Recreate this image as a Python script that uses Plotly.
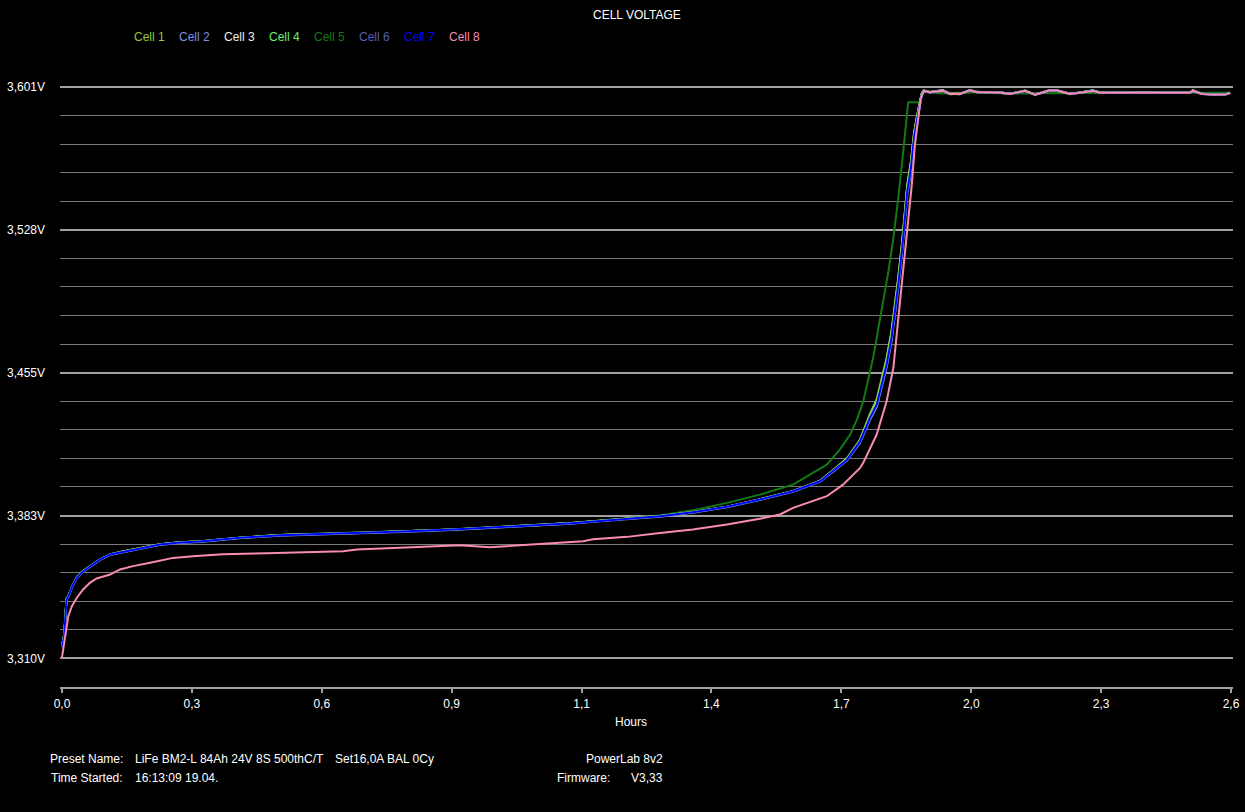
import plotly.graph_objects as go

# ---------------- data ----------------
cell_names = ["Cell 1", "Cell 2", "Cell 3", "Cell 4", "Cell 5", "Cell 6", "Cell 7", "Cell 8"]
cell_colors = ["#96C832", "#7B8FE8", "#F0EEE4", "#6CF06C", "#137A13", "#5560B0", "#0000FF", "#F88CB0"]

hours_main = [0.000, 0.005, 0.010, 0.014, 0.022, 0.033, 0.047, 0.062, 0.085, 0.107,
              0.136, 0.174, 0.218, 0.262, 0.307, 0.396, 0.485, 0.641, 0.758, 0.870,
              0.956, 1.052, 1.134, 1.190, 1.257, 1.330, 1.403, 1.479, 1.552, 1.626,
              1.686, 1.715, 1.746, 1.775, 1.797, 1.812, 1.823, 1.834, 1.845, 1.853,
              1.860, 1.868, 1.875, 1.880, 1.888, 1.895, 1.901, 1.907, 1.912, 1.917,
              1.930, 1.959, 1.975, 1.997, 2.019, 2.035, 2.086, 2.108, 2.142, 2.164,
              2.197, 2.213, 2.242, 2.264, 2.293, 2.309, 2.400, 2.509, 2.515, 2.535,
              2.564, 2.587, 2.598]

cell_1 = [3.3165, 3.3225, 3.3405, 3.3418, 3.3463, 3.3514, 3.3545, 3.3569, 3.3605, 3.3630,
          3.3646, 3.3662, 3.3680, 3.3692, 3.3697, 3.3714, 3.3729, 3.3737, 3.3748, 3.3756,
          3.3768, 3.3777, 3.3790, 3.3799, 3.3813, 3.3824, 3.3846, 3.3872, 3.3911, 3.3953,
          3.4005, 3.4058, 3.4120, 3.4215, 3.4345, 3.4420, 3.4525, 3.4630, 3.4770, 3.4905,
          3.5040, 3.5210, 3.5375, 3.5505, 3.5625, 3.5770, 3.5850, 3.5928, 3.5975, 3.5990,
          3.5984, 3.5990, 3.5978, 3.5976, 3.5992, 3.5984, 3.5982, 3.5976, 3.5990, 3.5971,
          3.5992, 3.5991, 3.5973, 3.5981, 3.5990, 3.5982, 3.5981, 3.5982, 3.5989, 3.5975,
          3.5971, 3.5972, 3.5982]

cell_2 = [3.3158, 3.3218, 3.3398, 3.3414, 3.3460, 3.3511, 3.3542, 3.3567, 3.3603, 3.3628,
          3.3643, 3.3659, 3.3679, 3.3689, 3.3694, 3.3713, 3.3726, 3.3736, 3.3745, 3.3755,
          3.3765, 3.3776, 3.3787, 3.3798, 3.3810, 3.3823, 3.3843, 3.3871, 3.3908, 3.3950,
          3.4000, 3.4050, 3.4108, 3.4198, 3.4315, 3.4380, 3.4480, 3.4580, 3.4715, 3.4850,
          3.4985, 3.5155, 3.5325, 3.5460, 3.5580, 3.5735, 3.5822, 3.5910, 3.5965, 3.5990,
          3.5982, 3.5990, 3.5975, 3.5975, 3.5992, 3.5983, 3.5983, 3.5975, 3.5990, 3.5971,
          3.5992, 3.5991, 3.5975, 3.5980, 3.5990, 3.5980, 3.5982, 3.5980, 3.5989, 3.5975,
          3.5971, 3.5972, 3.5979]

cell_3 = [3.3162, 3.3222, 3.3402, 3.3416, 3.3462, 3.3513, 3.3544, 3.3568, 3.3604, 3.3629,
          3.3645, 3.3661, 3.3681, 3.3691, 3.3696, 3.3715, 3.3728, 3.3738, 3.3747, 3.3757,
          3.3767, 3.3778, 3.3789, 3.3800, 3.3812, 3.3825, 3.3845, 3.3873, 3.3910, 3.3952,
          3.4004, 3.4056, 3.4116, 3.4210, 3.4338, 3.4410, 3.4515, 3.4620, 3.4760, 3.4895,
          3.5035, 3.5205, 3.5375, 3.5510, 3.5630, 3.5775, 3.5855, 3.5932, 3.5976, 3.5992,
          3.5984, 3.5994, 3.5976, 3.5973, 3.5994, 3.5985, 3.5981, 3.5974, 3.5990, 3.5972,
          3.5993, 3.5993, 3.5975, 3.5982, 3.5992, 3.5982, 3.5980, 3.5982, 3.5994, 3.5976,
          3.5971, 3.5972, 3.5980]

cell_4 = [3.3163, 3.3223, 3.3403, 3.3417, 3.3462, 3.3513, 3.3544, 3.3569, 3.3605, 3.3630,
          3.3645, 3.3661, 3.3681, 3.3691, 3.3696, 3.3715, 3.3728, 3.3738, 3.3747, 3.3757,
          3.3767, 3.3778, 3.3789, 3.3800, 3.3812, 3.3825, 3.3845, 3.3873, 3.3910, 3.3952,
          3.4003, 3.4055, 3.4115, 3.4210, 3.4332, 3.4400, 3.4505, 3.4608, 3.4745, 3.4880,
          3.5018, 3.5188, 3.5358, 3.5492, 3.5610, 3.5760, 3.5842, 3.5925, 3.5972, 3.5991,
          3.5983, 3.5992, 3.5973, 3.5975, 3.5994, 3.5983, 3.5983, 3.5975, 3.5992, 3.5971,
          3.5994, 3.5992, 3.5975, 3.5982, 3.5993, 3.5982, 3.5982, 3.5981, 3.5991, 3.5975,
          3.5970, 3.5971, 3.5981]

cell_6 = [3.3157, 3.3217, 3.3397, 3.3413, 3.3459, 3.3510, 3.3541, 3.3566, 3.3602, 3.3627,
          3.3642, 3.3658, 3.3678, 3.3688, 3.3693, 3.3712, 3.3725, 3.3735, 3.3744, 3.3754,
          3.3764, 3.3775, 3.3786, 3.3797, 3.3809, 3.3822, 3.3842, 3.3870, 3.3907, 3.3949,
          3.4000, 3.4050, 3.4110, 3.4200, 3.4318, 3.4385, 3.4486, 3.4588, 3.4722, 3.4858,
          3.4993, 3.5163, 3.5333, 3.5468, 3.5588, 3.5742, 3.5828, 3.5914, 3.5967, 3.5990,
          3.5982, 3.5990, 3.5975, 3.5975, 3.5992, 3.5984, 3.5982, 3.5975, 3.5990, 3.5971,
          3.5992, 3.5991, 3.5975, 3.5981, 3.5990, 3.5981, 3.5981, 3.5981, 3.5992, 3.5975,
          3.5971, 3.5971, 3.5980]

cell_7 = [3.3160, 3.3220, 3.3400, 3.3415, 3.3461, 3.3512, 3.3543, 3.3568, 3.3604, 3.3629,
          3.3644, 3.3660, 3.3680, 3.3690, 3.3695, 3.3714, 3.3727, 3.3737, 3.3746, 3.3756,
          3.3766, 3.3777, 3.3788, 3.3799, 3.3811, 3.3824, 3.3844, 3.3872, 3.3909, 3.3951,
          3.4002, 3.4053, 3.4112, 3.4205, 3.4325, 3.4392, 3.4494, 3.4596, 3.4732, 3.4867,
          3.5003, 3.5172, 3.5342, 3.5477, 3.5596, 3.5749, 3.5833, 3.5918, 3.5969, 3.5990,
          3.5983, 3.5991, 3.5974, 3.5974, 3.5993, 3.5984, 3.5982, 3.5974, 3.5991, 3.5970,
          3.5993, 3.5992, 3.5974, 3.5981, 3.5991, 3.5981, 3.5981, 3.5981, 3.5990, 3.5974,
          3.5970, 3.5971, 3.5980]

hours_5 = [0.000, 0.005, 0.010, 0.014, 0.022, 0.033, 0.047, 0.062, 0.085, 0.107,
           0.136, 0.174, 0.218, 0.262, 0.307, 0.396, 0.485, 0.641, 0.758, 0.870,
           0.956, 1.052, 1.134, 1.190, 1.257, 1.330, 1.403, 1.479, 1.552, 1.626,
           1.670, 1.701, 1.730, 1.753, 1.768, 1.782, 1.804, 1.823, 1.838, 1.849,
           1.860, 1.871, 1.880, 1.882, 1.908, 1.913, 1.930, 1.975, 2.035, 2.108,
           2.164, 2.242, 2.309, 2.400, 2.509, 2.564, 2.598]
cell_5 = [3.3164, 3.3224, 3.3404, 3.3418, 3.3464, 3.3515, 3.3546, 3.3570, 3.3606, 3.3631,
          3.3646, 3.3662, 3.3682, 3.3692, 3.3697, 3.3716, 3.3729, 3.3739, 3.3748, 3.3758,
          3.3768, 3.3779, 3.3790, 3.3801, 3.3813, 3.3828, 3.3854, 3.3892, 3.3934, 3.3985,
          3.4045, 3.4087, 3.4163, 3.4240, 3.4316, 3.4409, 3.4630, 3.4867, 3.5070, 3.5240,
          3.5444, 3.5681, 3.5884, 3.5932, 3.5932, 3.5985, 3.5982, 3.5976, 3.5983, 3.5976,
          3.5978, 3.5980, 3.5981, 3.5981, 3.5981, 3.5979, 3.5980]

hours_8 = [0.000, 0.009, 0.014, 0.022, 0.033, 0.047, 0.062, 0.077, 0.107, 0.129,
           0.158, 0.196, 0.247, 0.291, 0.358, 0.456, 0.625, 0.656, 0.767, 0.885,
           0.952, 1.025, 1.108, 1.159, 1.181, 1.257, 1.330, 1.403, 1.479, 1.552,
           1.597, 1.626, 1.701, 1.737, 1.775, 1.782, 1.812, 1.834, 1.849, 1.860,
           1.868, 1.875, 1.882, 1.890, 1.897, 1.904, 1.910, 1.917, 1.930, 1.959,
           1.975, 1.997, 2.019, 2.035, 2.086, 2.108, 2.142, 2.164, 2.197, 2.213,
           2.242, 2.264, 2.293, 2.309, 2.400, 2.509, 2.515, 2.535, 2.564, 2.587,
           2.598]
cell_8 = [3.3105, 3.3232, 3.3315, 3.3366, 3.3409, 3.3451, 3.3485, 3.3507, 3.3527, 3.3553,
          3.3570, 3.3587, 3.3612, 3.3620, 3.3631, 3.3636, 3.3646, 3.3655, 3.3665, 3.3676,
          3.3666, 3.3676, 3.3687, 3.3697, 3.3707, 3.3719, 3.3739, 3.3756, 3.3782, 3.3811,
          3.3833, 3.3867, 3.3926, 3.3985, 3.4070, 3.4096, 3.4240, 3.4409, 3.4579, 3.4833,
          3.5003, 3.5172, 3.5342, 3.5511, 3.5715, 3.5851, 3.5952, 3.5990, 3.5983, 3.5991,
          3.5974, 3.5974, 3.5993, 3.5984, 3.5982, 3.5974, 3.5991, 3.5970, 3.5993, 3.5992,
          3.5974, 3.5981, 3.5991, 3.5981, 3.5981, 3.5981, 3.5990, 3.5974, 3.5970, 3.5971,
          3.5980]

y_tick_vals = [3.310, 3.38275, 3.4555, 3.52825, 3.601]
y_tick_text = ["3,310V", "3,383V", "3,455V", "3,528V", "3,601V"]
x_tick_text = ["0,0", "0,3", "0,6", "0,9", "1,1", "1,4", "1,7", "2,0", "2,3", "2,6"]
x_max = 2.6

title_text = "CELL VOLTAGE"
x_title = "Hours"
info_rows = [
    ("Preset Name:", "LiFe BM2-L 84Ah 24V 8S 500thC/T", "Set16,0A BAL 0Cy", "", "PowerLab 8v2"),
    ("Time Started:", "16:13:09", "19.04.", "Firmware:", "V3,33"),
]

# ---------------- figure ----------------
series = {
    "Cell 1": (hours_main, cell_1), "Cell 2": (hours_main, cell_2),
    "Cell 3": (hours_main, cell_3), "Cell 4": (hours_main, cell_4),
    "Cell 5": (hours_5, cell_5), "Cell 6": (hours_main, cell_6),
    "Cell 7": (hours_main, cell_7), "Cell 8": (hours_8, cell_8),
}
draw_order = ["Cell 5", "Cell 3", "Cell 6", "Cell 2", "Cell 1", "Cell 4", "Cell 7", "Cell 8"]

fig = go.Figure()
for name in draw_order:
    xs, ys = series[name]
    col = cell_colors[cell_names.index(name)]
    fig.add_trace(go.Scatter(x=xs, y=ys, mode="lines", name=name,
                             line=dict(color=col, width=2), hoverinfo="skip"))

# plot area geometry (pixels)
L, T, W, H = 60, 85, 1173, 602
FIG_W, FIG_H = 1245, 812
FS = 12


def px(x):
    return (x - L) / W


def py(y):
    return (T + H - y) / H


y_span = y_tick_vals[1] - y_tick_vals[0]
x_pad = 2 * x_max / 1169

fig.update_layout(
    width=FIG_W, height=FIG_H,
    paper_bgcolor="black", plot_bgcolor="black",
    margin=dict(l=L, r=FIG_W - L - W, t=T, b=FIG_H - T - H, pad=0, autoexpand=False),
    showlegend=False,
    font=dict(family="Liberation Sans, Arial, sans-serif", size=FS, color="white"),
    xaxis=dict(
        range=[-x_pad, x_max + x_pad],
        automargin=False,
        tickmode="array",
        tickvals=[x_max * i / 9 for i in range(10)],
        ticktext=x_tick_text,
        showgrid=False, zeroline=False,
        showline=True, linecolor="#A0A0A0", linewidth=2,
        ticks="outside", ticklen=4, tickwidth=2, tickcolor="#A0A0A0",
        tickfont=dict(size=FS, color="white"),
        ticklabelstandoff=1,
    ),
    yaxis=dict(
        range=[y_tick_vals[0] - y_span / 5, y_tick_vals[-1] + 0.001],
        automargin=False,
        tickmode="array",
        tickvals=y_tick_vals,
        ticktext=y_tick_text,
        showgrid=True, gridcolor="#A0A0A0", gridwidth=2,
        zeroline=False, showline=False, ticks="",
        ticklabelstandoff=14,
        tickfont=dict(size=FS, color="white"),
        minor=dict(tickmode="linear", tick0=y_tick_vals[0], dtick=y_span / 5,
                   showgrid=True, gridcolor="#7A7A7A", gridwidth=1, ticks=""),
    ),
)

ann = []
ann.append(dict(text=title_text, x=px(637), y=py(15), xref="paper", yref="paper",
                xanchor="center", yanchor="middle", showarrow=False,
                font=dict(size=FS, color="white")))
for i, (n, c) in enumerate(zip(cell_names, cell_colors)):
    ann.append(dict(text=n, x=px(132 + 45 * i), y=py(37), xref="paper", yref="paper",
                    xanchor="left", yanchor="middle", showarrow=False,
                    font=dict(size=FS, color=c)))
ann.append(dict(text=x_title, x=px(631), y=py(722), xref="paper", yref="paper",
                xanchor="center", yanchor="middle", showarrow=False,
                font=dict(size=FS, color="white")))

row_y = [759, 778]
for (lab, v1, v2, lab2, v3), yy in zip(info_rows, row_y):
    ann.append(dict(text=lab, x=px(125), y=py(yy), xanchor="right"))
    ann.append(dict(text=v1, x=px(133), y=py(yy), xanchor="left"))
    ann.append(dict(text=v2, x=px(333 if lab.startswith("Preset") else 183), y=py(yy), xanchor="left"))
    if lab2:
        ann.append(dict(text=lab2, x=px(612), y=py(yy), xanchor="right"))
    ann.append(dict(text=v3, x=px(665), y=py(yy), xanchor="right"))
for a in ann[len(cell_names) + 2:]:
    a.update(xref="paper", yref="paper", yanchor="middle", showarrow=False,
             font=dict(size=FS, color="white"))

fig.update_layout(annotations=ann)

fig.write_html("out.html", config={"displayModeBar": False},
               post_script="document.body.style.margin='0';")
